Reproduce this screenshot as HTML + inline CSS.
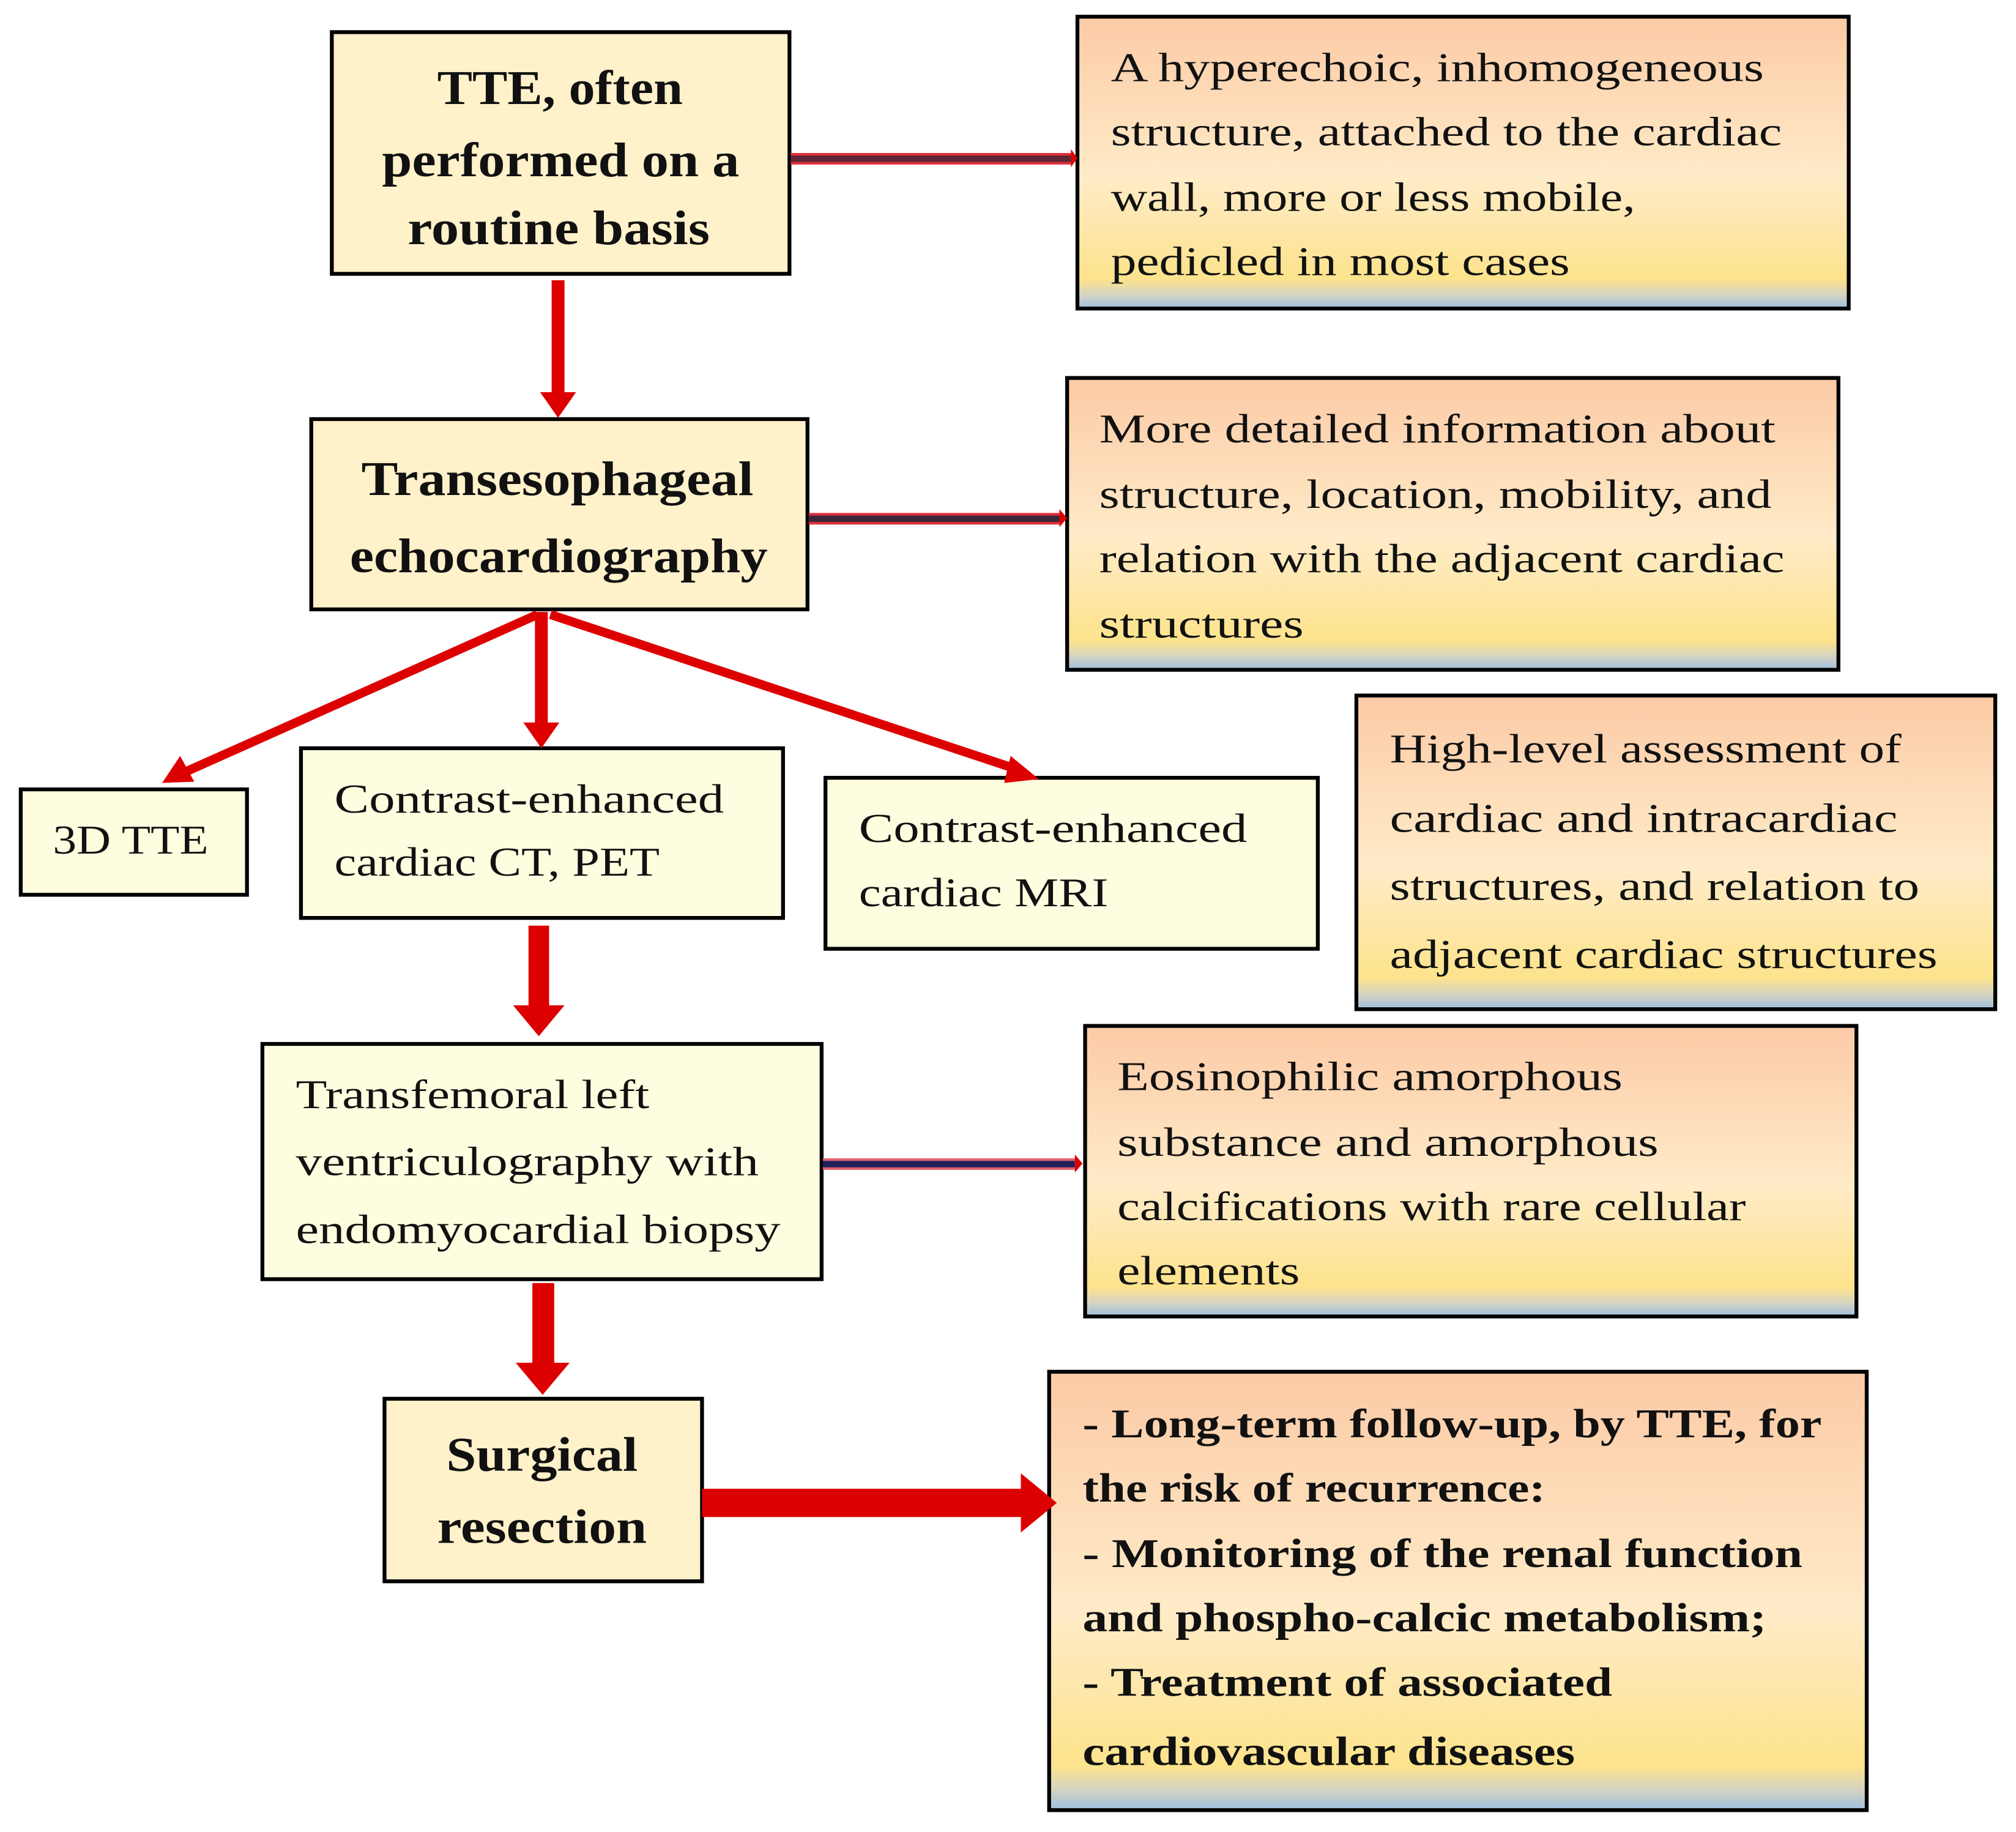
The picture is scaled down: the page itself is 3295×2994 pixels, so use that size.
<!DOCTYPE html>
<html><head><meta charset="utf-8"><style>
html,body{margin:0;padding:0;background:#fff;}
svg{display:block;}
text{font-family:"Liberation Serif",serif;fill:#111;}
.b{font-weight:bold;}
</style></head><body>
<svg width="3295" height="2994" viewBox="0 0 1568 1425" xmlns="http://www.w3.org/2000/svg">
<defs>
<linearGradient id="g" x1="0" y1="0" x2="0" y2="1">
<stop offset="0" stop-color="#fccaa6"/>
<stop offset="0.55" stop-color="#ffebc8"/>
<stop offset="0.9" stop-color="#fde38c"/>
<stop offset="0.95" stop-color="#d8d5c0"/>
<stop offset="1" stop-color="#9fbfe0"/>
</linearGradient>
</defs>
<g stroke="#000" stroke-width="3">
<rect x="258" y="25" width="356" height="188" fill="#fff1ca"/>
<rect x="242" y="326" width="386" height="148" fill="#fff1ca"/>
<rect x="299" y="1088" width="247" height="142" fill="#fff1ca"/>
<rect x="16" y="614" width="176" height="82" fill="#fffde0"/>
<rect x="234" y="582" width="375" height="132" fill="#fffde0"/>
<rect x="642" y="605" width="383" height="133" fill="#fffde0"/>
<rect x="204" y="812" width="435" height="183" fill="#fffde0"/>
<rect x="838" y="13" width="600" height="227" fill="url(#g)"/>
<rect x="830" y="294" width="600" height="227" fill="url(#g)"/>
<rect x="1055" y="541" width="497" height="244" fill="url(#g)"/>
<rect x="844" y="798" width="600" height="226" fill="url(#g)"/>
<rect x="816" y="1067" width="636" height="341" fill="url(#g)"/>
</g>
<g fill="#dd0000" stroke="none">
<rect x="615" y="119" width="218" height="9" fill="#e0303a"/><rect x="615" y="121" width="218" height="5" fill="#5e2838"/>
<polygon points="833,116 838,123 833,130"/>
<rect x="629" y="399" width="195" height="9" fill="#e0303a"/><rect x="629" y="401" width="195" height="5" fill="#3a2838"/>
<polygon points="824,396 830,403 824,410"/>
<rect x="640" y="901" width="196" height="9" fill="#e06070"/><rect x="640" y="903" width="196" height="5" fill="#20205a"/>
<polygon points="836,898 842,905 836,912"/>
<rect x="429" y="218" width="10" height="90"/>
<polygon points="420,305 448,305 434,325"/>
<rect x="416" y="476" width="10" height="90"/>
<polygon points="407,562 435,562 421,582"/>
<rect x="411" y="720" width="16" height="65"/>
<polygon points="399,782 439,782 419,806"/>
<rect x="414" y="998" width="17" height="65"/>
<polygon points="401,1060 443,1060 422,1085"/>
<rect x="546" y="1158" width="250" height="22"/>
<polygon points="794,1146 822,1169 794,1192"/>
</g>
<g stroke="#dd0000" stroke-width="7" fill="none">
<line x1="418" y1="478" x2="145" y2="600"/>
<line x1="428" y1="478" x2="790" y2="598"/>
</g>
<g fill="#dd0000">
<polygon points="126,609 140,588 151,608"/>
<polygon points="808,606 786,588 781,609"/>
</g>
<g class="b" font-size="38">
<text x="340" y="81" class="b" textLength="191" lengthAdjust="spacingAndGlyphs">TTE, often</text>
<text x="297" y="137" class="b" textLength="278" lengthAdjust="spacingAndGlyphs">performed on a</text>
<text x="317" y="190" class="b" textLength="235" lengthAdjust="spacingAndGlyphs">routine basis</text>
<text x="281" y="385" class="b" textLength="305" lengthAdjust="spacingAndGlyphs">Transesophageal</text>
<text x="272" y="445" class="b" textLength="325" lengthAdjust="spacingAndGlyphs">echocardiography</text>
<text x="347" y="1144" class="b" textLength="149" lengthAdjust="spacingAndGlyphs">Surgical</text>
<text x="340" y="1200" class="b" textLength="163" lengthAdjust="spacingAndGlyphs">resection</text>
</g>
<g font-size="32">
<text x="864" y="63" textLength="508" lengthAdjust="spacingAndGlyphs">A hyperechoic, inhomogeneous</text>
<text x="864" y="113" textLength="522" lengthAdjust="spacingAndGlyphs">structure, attached to the cardiac</text>
<text x="864" y="164" textLength="408" lengthAdjust="spacingAndGlyphs">wall, more or less mobile,</text>
<text x="864" y="214" textLength="357" lengthAdjust="spacingAndGlyphs">pedicled in most cases</text>
<text x="855" y="344" textLength="526" lengthAdjust="spacingAndGlyphs">More detailed information about</text>
<text x="855" y="395" textLength="523" lengthAdjust="spacingAndGlyphs">structure, location, mobility, and</text>
<text x="855" y="445" textLength="533" lengthAdjust="spacingAndGlyphs">relation with the adjacent cardiac</text>
<text x="855" y="496" textLength="159" lengthAdjust="spacingAndGlyphs">structures</text>
<text x="41" y="664" textLength="121" lengthAdjust="spacingAndGlyphs">3D TTE</text>
<text x="260" y="632" textLength="303" lengthAdjust="spacingAndGlyphs">Contrast-enhanced</text>
<text x="260" y="681" textLength="253" lengthAdjust="spacingAndGlyphs">cardiac CT, PET</text>
<text x="668" y="655" textLength="302" lengthAdjust="spacingAndGlyphs">Contrast-enhanced</text>
<text x="668" y="705" textLength="194" lengthAdjust="spacingAndGlyphs">cardiac MRI</text>
<text x="1081" y="593" textLength="398" lengthAdjust="spacingAndGlyphs">High-level assessment of</text>
<text x="1081" y="647" textLength="395" lengthAdjust="spacingAndGlyphs">cardiac  and intracardiac</text>
<text x="1081" y="700" textLength="412" lengthAdjust="spacingAndGlyphs">structures, and relation to</text>
<text x="1081" y="753" textLength="426" lengthAdjust="spacingAndGlyphs">adjacent cardiac structures</text>
<text x="230" y="862" textLength="275" lengthAdjust="spacingAndGlyphs">Transfemoral left</text>
<text x="230" y="914" textLength="360" lengthAdjust="spacingAndGlyphs">ventriculography with</text>
<text x="230" y="967" textLength="377" lengthAdjust="spacingAndGlyphs">endomyocardial biopsy</text>
<text x="869" y="848" textLength="393" lengthAdjust="spacingAndGlyphs">Eosinophilic amorphous</text>
<text x="869" y="899" textLength="421" lengthAdjust="spacingAndGlyphs">substance and amorphous</text>
<text x="869" y="949" textLength="489" lengthAdjust="spacingAndGlyphs">calcifications with rare cellular</text>
<text x="869" y="999" textLength="142" lengthAdjust="spacingAndGlyphs">elements</text>
</g>
<g font-size="32" class="b">
<text x="842" y="1118" class="b" textLength="575" lengthAdjust="spacingAndGlyphs">- Long-term follow-up, by TTE, for</text>
<text x="842" y="1168" class="b" textLength="360" lengthAdjust="spacingAndGlyphs">the risk of recurrence:</text>
<text x="842" y="1219" class="b" textLength="560" lengthAdjust="spacingAndGlyphs">- Monitoring of the renal function</text>
<text x="842" y="1269" class="b" textLength="532" lengthAdjust="spacingAndGlyphs">and phospho-calcic metabolism;</text>
<text x="842" y="1319" class="b" textLength="412" lengthAdjust="spacingAndGlyphs">- Treatment of associated</text>
<text x="842" y="1373" class="b" textLength="383" lengthAdjust="spacingAndGlyphs">cardiovascular diseases</text>
</g>
</svg>
</body></html>
